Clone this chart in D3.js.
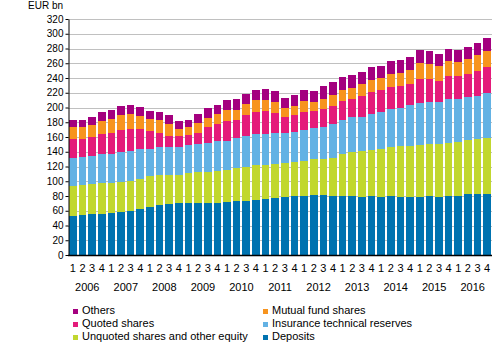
<!DOCTYPE html>
<html>
<head>
<meta charset="utf-8">
<script src="https://cdn.jsdelivr.net/npm/d3@7"></script>
<style>
  body { margin: 0; background: #fff; }
  text { font-family: "Liberation Sans", Arial, sans-serif; fill: #000; }
</style>
</head>
<body>
<div id="chart"></div>
<script>
// quarters 2006Q1 .. 2016Q4
var years = ["2006", "2007", "2008", "2009", "2010", "2011", "2012", "2013", "2014", "2015", "2016"];
var quarterLabels = ["1", "2", "3", "4"];

// EUR bn
var deposits = [53.0, 54.3, 55.7, 55.7, 57.0, 58.4, 59.8, 62.5, 65.2, 67.9, 69.3, 70.6,
  70.6, 70.6, 70.6, 70.6, 72.0, 73.3, 73.3, 74.7, 76.0, 77.4, 78.8, 80.1,
  80.1, 81.5, 81.5, 80.1, 80.1, 80.1, 78.8, 80.1, 78.8, 80.1, 78.8, 78.8,
  78.8, 80.1, 78.8, 80.1, 80.1, 82.8, 82.8, 82.8];
var unquoted = [40.7, 40.8, 40.7, 42.1, 40.8, 40.7, 40.7, 40.7, 42.1, 40.7, 39.3, 38.0,
  40.8, 42.1, 42.1, 43.5, 43.4, 44.8, 46.2, 47.5, 46.2, 46.2, 46.1, 46.2,
  47.6, 48.9, 48.9, 51.6, 57.1, 59.8, 62.4, 62.5, 65.1, 66.6, 69.2, 69.2,
  70.6, 70.6, 71.9, 72.0, 73.4, 73.4, 74.7, 76.1];
var insurance = [38.0, 38.0, 38.0, 39.4, 39.4, 40.8, 40.7, 40.7, 36.6, 38.1, 38.1, 38.1,
  38.0, 38.0, 39.4, 40.7, 39.4, 40.8, 42.1, 42.1, 42.1, 42.1, 40.8, 40.7,
  42.1, 42.1, 43.4, 46.2, 46.1, 47.5, 46.2, 48.9, 50.3, 51.6, 51.6, 55.7,
  57.0, 57.1, 57.1, 59.7, 58.3, 58.4, 58.4, 61.1];
var quoted = [25.8, 24.4, 25.8, 27.1, 28.5, 29.9, 29.9, 27.2, 24.5, 19.0, 14.9, 14.9,
  13.5, 15.0, 21.7, 23.1, 27.2, 24.4, 28.5, 29.9, 31.3, 27.1, 21.7, 23.1,
  24.4, 23.1, 24.5, 24.4, 25.8, 24.4, 28.5, 29.9, 29.9, 29.8, 29.9, 28.5,
  32.6, 31.2, 28.5, 31.3, 31.3, 31.2, 34.0, 35.3];
var mutual = [16.7, 16.7, 16.3, 17.7, 19.0, 20.3, 20.4, 17.7, 16.3, 17.6, 16.3, 9.5,
  10.9, 13.6, 12.2, 13.6, 14.9, 13.6, 14.9, 16.3, 14.9, 15.0, 12.2, 12.2,
  14.9, 12.2, 13.5, 15.0, 15.0, 15.0, 16.3, 16.2, 16.3, 17.7, 17.7, 19.0,
  21.7, 20.4, 20.3, 20.4, 19.0, 20.4, 21.7, 21.7];
var others = [9.1, 9.1, 10.9, 12.2, 12.2, 12.2, 12.2, 12.2, 10.9, 10.9, 12.2, 10.9,
  9.5, 12.2, 13.6, 12.2, 13.6, 14.9, 13.6, 13.6, 14.9, 14.9, 13.6, 15.0,
  15.0, 14.9, 17.7, 17.6, 17.6, 17.6, 16.3, 17.7, 16.2, 17.7, 17.6, 17.7,
  17.7, 17.6, 16.3, 16.2, 16.3, 16.3, 16.3, 17.7];

var yTicks = [0, 20, 40, 60, 80, 100, 120, 140, 160, 180, 200, 220, 240, 260, 280, 300, 320];

var seriesNames = ["Deposits", "Unquoted shares and other equity", "Insurance technical reserves",
  "Quoted shares", "Mutual fund shares", "Others"];
var seriesColors = ["#0073b0", "#c1d72f", "#63b2e4", "#e41b7a", "#f7941e", "#a4007f"];
var seriesValues = [deposits, unquoted, insurance, quoted, mutual, others];

const W = 500, H = 350;
const margin = { top: 19, right: 8, bottom: 95, left: 68 };
const width = W - margin.left - margin.right,
  height = H - margin.top - margin.bottom;

// one row per quarter for the stack
var rows = deposits.map(function (d, i) {
  var r = { idx: i };
  seriesNames.forEach(function (s, k) { r[s] = seriesValues[k][i]; });
  return r;
});

const svg = d3.select("#chart").append("svg")
  .attr("width", W).attr("height", H);
const g = svg.append("g")
  .attr("transform", `translate(${margin.left}, ${margin.top})`);

const x = d3.scaleBand()
  .domain(d3.range(rows.length))
  .range([0, width])
  .paddingInner(0.2)
  .paddingOuter(0.1);

const y = d3.scaleLinear().domain([0, 320]).range([height, 0]);

// gridlines
g.selectAll(".grid")
  .data(yTicks.filter(function (d) { return d > 0; }))
  .enter().append("line")
  .attr("class", "grid")
  .attr("x1", 0).attr("x2", width)
  .attr("y1", function (d) { return Math.round(y(d)) + 0.5; })
  .attr("y2", function (d) { return Math.round(y(d)) + 0.5; })
  .attr("stroke", "#c0c0c0")
  .attr("stroke-width", 1);

// stacked bars
const stack = d3.stack().keys(seriesNames);
const layers = stack(rows);

g.selectAll(".layer")
  .data(layers)
  .enter().append("g")
  .attr("class", "layer")
  .attr("fill", function (d, i) { return seriesColors[i]; })
  .selectAll("rect")
  .data(function (d) { return d; })
  .enter().append("rect")
  .attr("x", function (d) { return x(d.data.idx); })
  .attr("width", x.bandwidth())
  .attr("y", function (d) { return y(d[1]); })
  .attr("height", function (d) { return y(d[0]) - y(d[1]); })
  .attr("shape-rendering", "crispEdges");

// y axis
const yAxis = g.append("g")
  .attr("transform", "translate(0.5,0)")
  .call(d3.axisLeft(y).tickValues(yTicks).tickSize(3).tickSizeOuter(0));
yAxis.select(".domain").attr("stroke", "#000");
yAxis.selectAll(".tick text")
  .attr("x", -5)
  .style("font-size", "10px")
  .style("font-family", "'Liberation Sans', Arial, sans-serif");

g.append("text")
  .attr("x", -5)
  .attr("y", -10)
  .attr("text-anchor", "end")
  .style("font-size", "10px")
  .text("EUR bn");

// x axis line
g.append("line")
  .attr("x1", 0).attr("x2", width)
  .attr("y1", height + 0.5).attr("y2", height + 0.5)
  .attr("stroke", "#000")
  .attr("stroke-width", 1.5);

// quarter labels
g.selectAll(".qlab")
  .data(rows)
  .enter().append("text")
  .attr("class", "qlab")
  .attr("x", function (d) { return x(d.idx) + x.bandwidth() / 2; })
  .attr("y", height + 17)
  .attr("text-anchor", "middle")
  .style("font-size", "11px")
  .text(function (d) { return quarterLabels[d.idx % 4]; });

// year labels
g.selectAll(".ylab")
  .data(years)
  .enter().append("text")
  .attr("class", "ylab")
  .attr("x", function (d, i) {
    return (x(i * 4) + x(i * 4 + 3) + x.bandwidth()) / 2;
  })
  .attr("y", height + 35.5)
  .attr("text-anchor", "middle")
  .style("font-size", "11px")
  .text(function (d) { return d; });

// legend, two columns
var legendOrder = ["Others", "Mutual fund shares", "Quoted shares",
  "Insurance technical reserves", "Unquoted shares and other equity", "Deposits"];
const legend = svg.selectAll(".legend")
  .data(legendOrder)
  .enter().append("g")
  .attr("class", "legend")
  .attr("transform", function (d, i) {
    var col = i % 2, row = Math.floor(i / 2);
    return "translate(" + (col == 0 ? 73 : 263) + ", " + (314 + row * 13) + ")";
  });
legend.append("rect")
  .attr("x", 0).attr("y", -5)
  .attr("width", 5).attr("height", 5)
  .attr("fill", function (d) { return seriesColors[seriesNames.indexOf(d)]; });
legend.append("text")
  .attr("x", 9)
  .attr("y", 0)
  .style("font-size", "11px")
  .text(function (d) { return d; });
</script>
</body>
</html>
